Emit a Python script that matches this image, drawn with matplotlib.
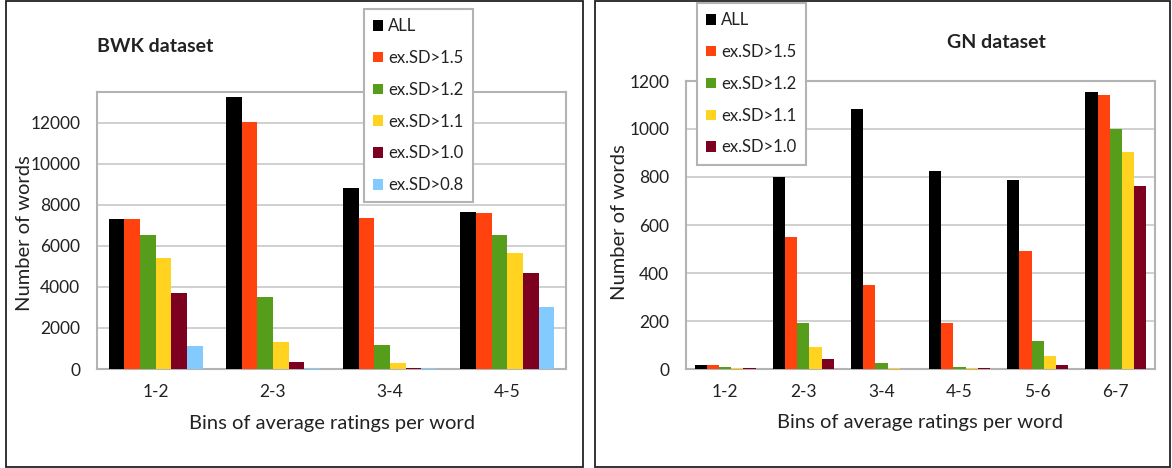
import matplotlib
matplotlib.use("Agg")
import matplotlib.pyplot as plt
from matplotlib.patches import Rectangle, Patch
import numpy as np

plt.rcParams['font.family'] = ['Lato', 'DejaVu Sans']

series_names = ["ALL", "ex.SD>1.5", "ex.SD>1.2", "ex.SD>1.1", "ex.SD>1.0", "ex.SD>0.8"]
series_colors = ["#000000", "#ff420e", "#579d1c", "#ffd320", "#7e0021", "#83caff"]

bwk_bins = ["1-2", "2-3", "3-4", "4-5"]
bwk_all = [7300, 13250, 8800, 7650]
bwk_sd15 = [7300, 12050, 7350, 7600]
bwk_sd12 = [6550, 3500, 1150, 6550]
bwk_sd11 = [5400, 1300, 280, 5650]
bwk_sd10 = [3700, 330, 50, 4700]
bwk_sd08 = [1100, 40, 30, 3000]

gn_bins = ["1-2", "2-3", "3-4", "4-5", "5-6", "6-7"]
gn_all = [15, 800, 1085, 825, 787, 1155]
gn_sd15 = [15, 548, 350, 193, 493, 1140]
gn_sd12 = [8, 193, 25, 8, 117, 1000]
gn_sd11 = [4, 92, 3, 3, 55, 905]
gn_sd10 = [3, 40, 0, 3, 15, 763]

W, H = 1172, 468
TXT = "#222222"
fig = plt.figure(figsize=(W / 100, H / 100), dpi=100)
fig.patch.set_facecolor("white")


def px_axes(x0, y0, x1, y1):
    # pixel box (top-left origin) -> figure fraction axes
    return fig.add_axes([x0 / W, 1 - y1 / H, (x1 - x0) / W, (y1 - y0) / H])


def grouped_bars(ax, bins, series, ymax, step, group=0.8):
    n = len(series)
    x = np.arange(len(bins))
    w = group / n
    for i, vals in enumerate(series):
        ax.bar(x - group / 2 + w * (i + 0.5), vals, width=w,
               color=series_colors[i], zorder=3)
    ax.set_xlim(-0.5, len(bins) - 0.5)
    ax.set_ylim(0, ymax)
    ax.set_xticks(x)
    ax.set_xticklabels(bins)
    ax.set_yticks(np.arange(0, ymax + 1, step))
    ax.tick_params(length=0, labelsize=12.5, colors=TXT)
    ax.tick_params(axis="y", pad=12)
    ax.tick_params(axis="x", pad=11)
    ax.yaxis.grid(True, color="#c8c8c8", linewidth=1.2, zorder=0)
    ax.set_axisbelow(True)
    for s in ax.spines.values():
        s.set_color("#b3b3b3")
        s.set_linewidth(1.5)
    ax.set_xlabel("Bins of average ratings per word", fontsize=14.5, color=TXT)
    ax.set_ylabel("Number of words", fontsize=14.5, color=TXT)


def add_legend(names, x0, y0):
    handles = [Patch(facecolor=series_colors[i], edgecolor="none") for i in range(len(names))]
    leg = fig.legend(handles, names, loc="upper left",
                     bbox_to_anchor=(x0 / W, 1 - y0 / H), borderaxespad=0,
                     fontsize=12, labelspacing=0.95, handlelength=0.6,
                     handleheight=0.6, handletextpad=0.3, borderpad=0.55,
                     fancybox=False, framealpha=1, edgecolor="#b3b3b3")
    leg.get_frame().set_linewidth(1.5)
    for t in leg.get_texts():
        t.set_color(TXT)


# outer panel borders
for bx0, bx1 in [(6, 583), (595, 1170)]:
    fig.patches.append(Rectangle((bx0 / W, 1 - 467 / H), (bx1 - bx0) / W, 466 / H,
                                 transform=fig.transFigure, fill=False,
                                 edgecolor=TXT, linewidth=1.3))

ax1 = px_axes(97, 92, 566, 369)
grouped_bars(ax1, bwk_bins,
             [bwk_all, bwk_sd15, bwk_sd12, bwk_sd11, bwk_sd10, bwk_sd08],
             13500, 2000, group=0.8)
ax1.yaxis.set_label_coords(33 / W, 1 - 233 / H, transform=fig.transFigure)
ax1.xaxis.set_label_coords(332 / W, 1 - 415 / H, transform=fig.transFigure)
fig.text(97 / W, 1 - 47 / H, "BWK dataset", fontsize=14, fontweight="bold",
         va="center", ha="left", color=TXT)
add_legend(series_names, 364, 9)

ax2 = px_axes(686, 81, 1155, 369)
grouped_bars(ax2, gn_bins,
             [gn_all, gn_sd15, gn_sd12, gn_sd11, gn_sd10],
             1200, 200, group=0.78)
ax2.yaxis.set_label_coords(628 / W, 1 - 222 / H, transform=fig.transFigure)
ax2.xaxis.set_label_coords(920 / W, 1 - 414 / H, transform=fig.transFigure)
fig.text(996 / W, 1 - 43 / H, "GN dataset", fontsize=14, fontweight="bold",
         va="center", ha="center", color=TXT)
add_legend(series_names[:5], 697, 3)

fig.savefig("out.png", dpi=100)
